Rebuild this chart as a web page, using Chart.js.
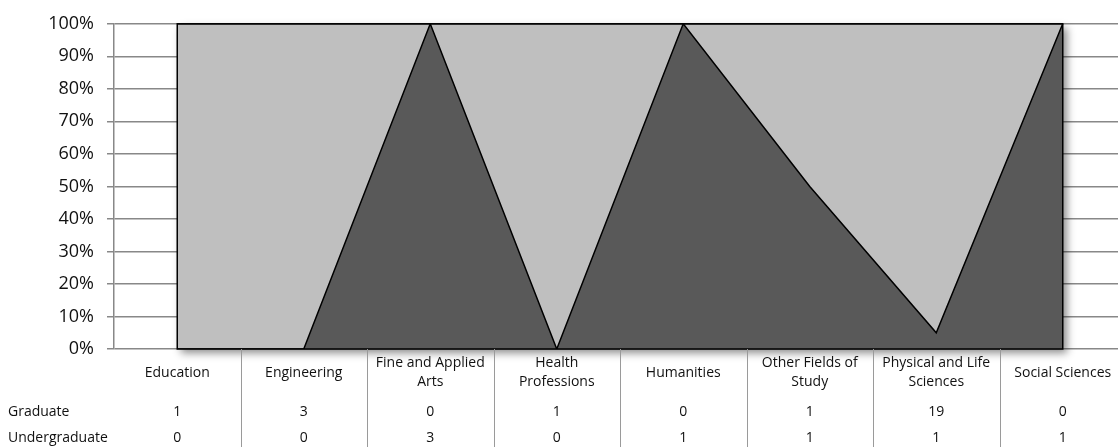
<!DOCTYPE html>
<html>
<head>
<meta charset="utf-8">
<script src="https://cdn.jsdelivr.net/npm/chart.js@4"></script>
<style>
    html, body { margin: 0; padding: 0; background: #fff; overflow: hidden; }
    #wrap { width: 1126px; height: 447px; position: relative; }
</style>
</head>
<body>
<div id="wrap"><canvas id="chart"></canvas></div>
<script>
// Data
const categories = [
    ["Education"], ["Engineering"], ["Fine and Applied", "Arts"], ["Health", "Professions"],
    ["Humanities"], ["Other Fields of", "Study"], ["Physical and Life", "Sciences"], ["Social Sciences"]
];
const graduate = [1, 3, 0, 1, 0, 1, 19, 0];
const undergraduate = [0, 0, 3, 0, 1, 1, 1, 1];
const yTicks = [0, 10, 20, 30, 40, 50, 60, 70, 80, 90, 100];

// 100% stacked shares
const totals = graduate.map((g, i) => g + undergraduate[i]);
const ugShare = undergraduate.map((u, i) => totals[i] ? u / totals[i] * 100 : 0);
const gShare = graduate.map((g, i) => totals[i] ? g / totals[i] * 100 : 0);

const FONT = "'Open Sans', sans-serif";
const LIGHT = "#bfbfbf";
const DARK = "#595959";

// shadow block behind the area + outline on top
const areaFrame = {
    id: "areaFrame",
    beforeDatasetsDraw(chart) {
        const { ctx, scales: { x, y } } = chart;
        const x0 = x.getPixelForValue(0), x1 = x.getPixelForValue(categories.length - 1);
        const yt = y.getPixelForValue(100), yb = y.getPixelForValue(0);
        ctx.save();
        ctx.shadowColor = "rgba(0,0,0,0.45)";
        ctx.shadowBlur = 8;
        ctx.shadowOffsetX = 4;
        ctx.shadowOffsetY = 4;
        ctx.fillStyle = LIGHT;
        ctx.fillRect(x0, yt, x1 - x0, yb - yt);
        ctx.restore();
    },
    afterDatasetsDraw(chart) {
        const { ctx, scales: { x, y } } = chart;
        const x0 = x.getPixelForValue(0), x1 = x.getPixelForValue(categories.length - 1);
        const yt = y.getPixelForValue(100), yb = y.getPixelForValue(0);
        ctx.save();
        ctx.strokeStyle = "#000";
        ctx.lineWidth = 1.5;
        ctx.strokeRect(x0, yt, x1 - x0, yb - yt);
        ctx.restore();
    }
};

// data table under the plot
const dataTable = {
    id: "dataTable",
    afterDraw(chart) {
        const { ctx, scales: { x, y } } = chart;
        const top = y.getPixelForValue(0);
        const bottom = chart.height;
        ctx.save();
        // column separators
        ctx.strokeStyle = "#9a9a9a";
        ctx.lineWidth = 1;
        for (let i = 0; i < categories.length - 1; i++) {
            const bx = Math.round((x.getPixelForValue(i) + x.getPixelForValue(i + 1)) / 2) + 0.5;
            ctx.beginPath();
            ctx.moveTo(bx, top);
            ctx.lineTo(bx, bottom);
            ctx.stroke();
        }
        ctx.fillStyle = "#111";
        ctx.textBaseline = "middle";
        ctx.font = "14px " + FONT;
        ctx.textAlign = "center";
        categories.forEach((lines, i) => {
            const cx = x.getPixelForValue(i);
            if (lines.length === 1) {
                ctx.fillText(lines[0], cx, top + 24);
            } else {
                ctx.fillText(lines[0], cx, top + 14);
                ctx.fillText(lines[1], cx, top + 33);
            }
            ctx.fillText(String(graduate[i]), cx, top + 63);
            ctx.fillText(String(undergraduate[i]), cx, top + 89);
        });
        ctx.textAlign = "left";
        ctx.fillText("Graduate", 8, top + 63);
        ctx.fillText("Undergraduate", 8, top + 89);
        ctx.restore();
    }
};

new Chart(document.getElementById("chart"), {
    type: "line",
    data: {
        labels: categories,
        datasets: [
            {
                label: "Undergraduate",
                data: ugShare,
                fill: "origin",
                backgroundColor: DARK,
                borderColor: "#000",
                borderWidth: 1.5,
                pointRadius: 0,
                tension: 0
            },
            {
                label: "Graduate",
                data: gShare,
                fill: "-1",
                backgroundColor: LIGHT,
                borderColor: "#000",
                borderWidth: 1.5,
                pointRadius: 0,
                tension: 0
            }
        ]
    },
    options: {
        responsive: true,
        maintainAspectRatio: false,
        animation: false,
        layout: { padding: { top: 20, bottom: 98, left: 0, right: 0 } },
        plugins: {
            legend: { display: false },
            tooltip: { enabled: false }
        },
        scales: {
            x: {
                type: "category",
                offset: true,
                display: false
            },
            y: {
                stacked: true,
                min: 0,
                max: 100,
                afterFit: scale => { scale.width = 114; },
                afterBuildTicks: scale => { scale.ticks = yTicks.map(v => ({ value: v })); },
                ticks: {
                    callback: v => v + "%",
                    color: "#111",
                    padding: 13,
                    font: { family: FONT, size: 18 }
                },
                grid: { color: "#888", lineWidth: 1.5, tickLength: 7 },
                border: { display: true, color: "#888", width: 1.5 }
            }
        }
    },
    plugins: [areaFrame, dataTable]
});
</script>
</body>
</html>
